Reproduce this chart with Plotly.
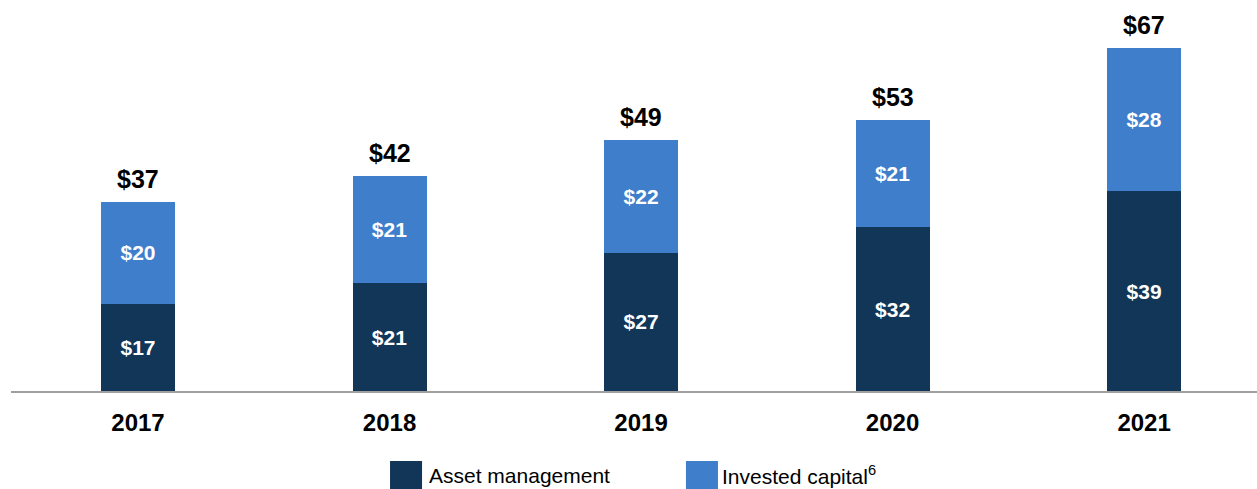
import plotly.graph_objects as go

years = ["2017", "2018", "2019", "2020", "2021"]
asset_mgmt = [17, 21, 27, 32, 39]
invested_capital = [20, 21, 22, 21, 28]
totals = [37, 42, 49, 53, 67]
series_names = ["Asset management", "Invested capital<sup>6</sup>"]
colors = ["#123657", "#3f7ecb"]

FONT = "Liberation Sans, Arial, sans-serif"

fig = go.Figure()
for vals, name, col in zip([asset_mgmt, invested_capital], series_names, colors):
    fig.add_trace(go.Bar(
        x=years, y=vals, name=name, marker_color=col, marker_line_width=0,
        width=0.294, text=[f"<b>${v}</b>" for v in vals],
        textposition="inside", insidetextanchor="middle", textangle=0,
        constraintext="none",
        textfont=dict(family=FONT, size=21, color="white"),
        showlegend=False,
    ))

annotations = []
for i, t in enumerate(totals):
    annotations.append(dict(x=i, y=t, xref="x", yref="y", text=f"<b>${t}</b>",
                            showarrow=False, xanchor="center", yanchor="bottom",
                            yshift=7, font=dict(family=FONT, size=25, color="black")))

# legend drawn manually (large swatches)
legend_items = [(0.3042, 0.3336, series_names[0], colors[0]),
                (0.5417, 0.5690, series_names[1], colors[1])]
shapes = []
for x0, xt, name, col in legend_items:
    shapes.append(dict(type="rect", xref="paper", yref="paper",
                       x0=x0, x1=x0 + 0.0257, y0=-0.257, y1=-0.184,
                       fillcolor=col, line=dict(width=0)))
    annotations.append(dict(xref="paper", yref="paper", x=xt, y=-0.221,
                            text=name, showarrow=False, xanchor="left", yanchor="middle",
                            font=dict(family=FONT, size=21, color="black")))

fig.update_layout(
    barmode="stack",
    width=1257, height=489,
    margin=dict(l=11, r=0, t=10, b=98),
    plot_bgcolor="white", paper_bgcolor="white",
    font=dict(family=FONT),
    xaxis=dict(
        type="category",
        range=[-0.505, 4.449], showgrid=False, zeroline=False,
        showline=True, linecolor="#a0a0a0", linewidth=2,
        ticks="", tickfont=dict(family=FONT, size=24, color="black"),
        tickvals=years, ticktext=[f"<b>{y}</b>" for y in years],
        ticklabelstandoff=9,
    ),
    yaxis=dict(range=[0, 74.4], visible=False, showgrid=False, zeroline=False),
    shapes=shapes,
    annotations=annotations,
)

fig.write_html("out.html", config={"displayModeBar": False},
               post_script="document.body.style.margin='0';document.body.style.overflow='hidden';")
